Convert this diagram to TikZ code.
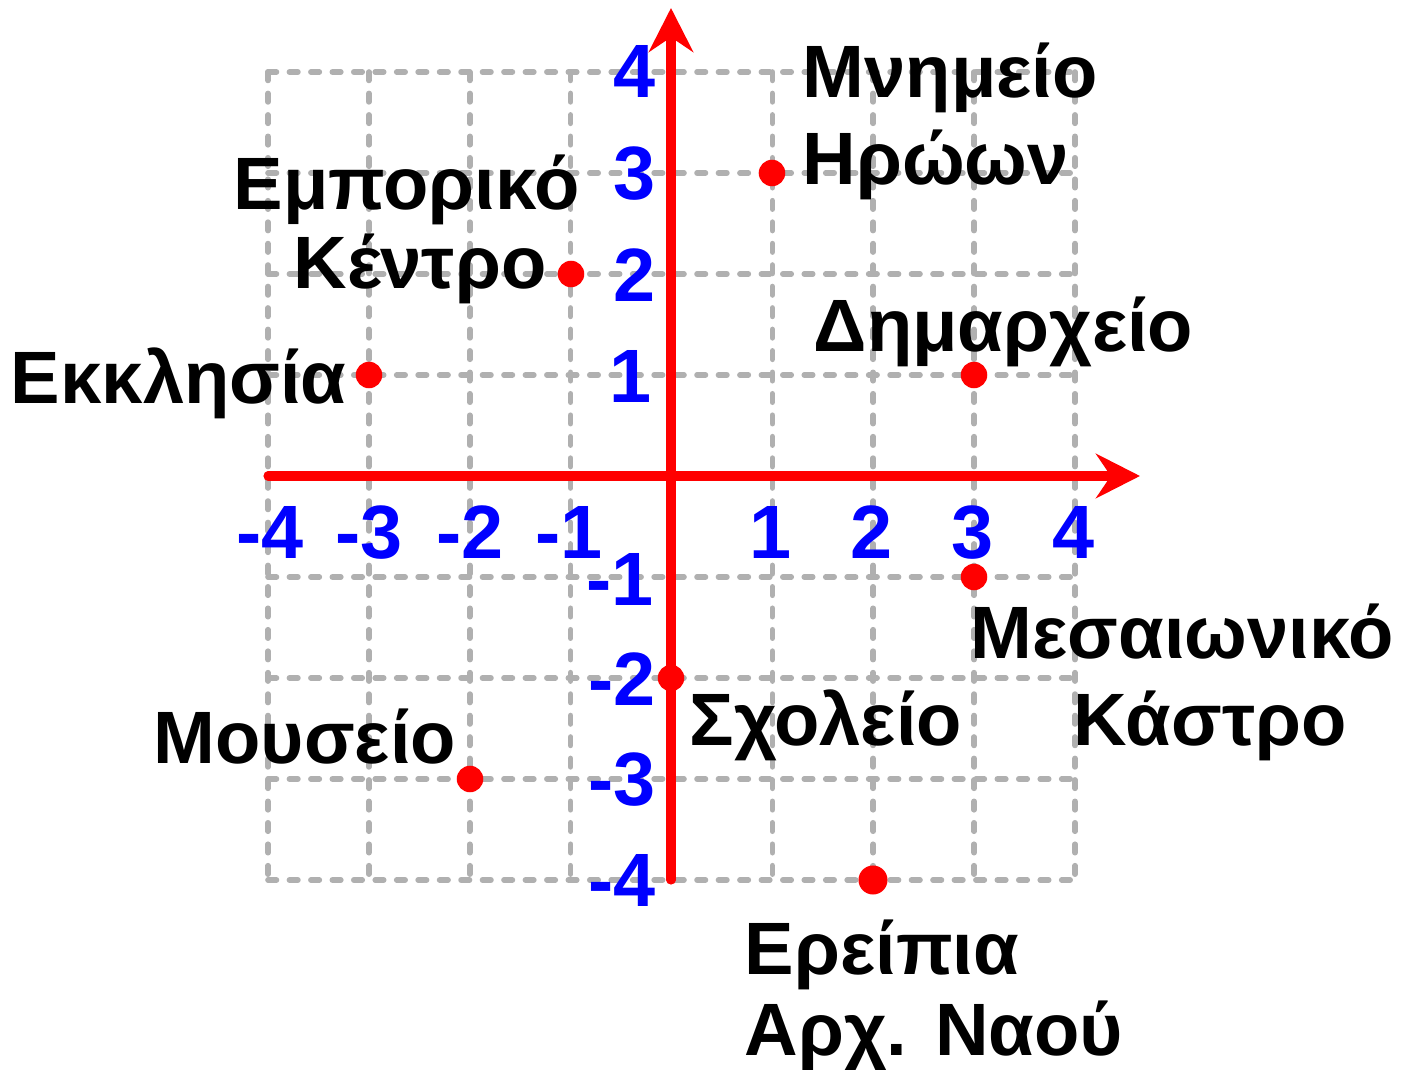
\documentclass[tikz,border=0pt]{standalone}
\usepackage{fontspec}
\setmainfont{Liberation Sans}
\usetikzlibrary{arrows.meta}
\begin{document}
\begin{tikzpicture}[x=0.01cm,y=-0.01cm,
  gridline/.style={draw={rgb,255:red,176;green,176;blue,176},line width=1.6pt,line cap=round,dash pattern=on 2.4pt off 3.7pt},
  axis/.style={draw=red,line width=2.6pt,line cap=round,-{Stealth[length=12.5pt,width=12.6pt,inset=4.2pt]}},
  dot/.style={circle,fill=red,inner sep=0pt,minimum size=0.265cm},
  lbl/.style={inner sep=0pt,anchor=base west,font=\fontsize{21.1}{25}\selectfont\bfseries},
  num/.style={inner sep=0pt,text=blue,font=\fontsize{21.5}{26}\selectfont\bfseries}]
\useasboundingbox (0,0) rectangle (1411,1070);
% grid
\foreach \i in {0,...,8}{
  \draw[gridline] ({268+\i*100.875},72) -- ({268+\i*100.875},880);
  \draw[gridline] (268,{72+\i*101}) -- (1075,{72+\i*101});
}
% axes
\coordinate (xs) at (268,476);
\coordinate (xe) at (1140,476);
\coordinate (ys) at (671,880);
\coordinate (ye) at (671,8);
\draw[axis] (xs) -- (xe);
\draw[axis] (ys) -- (ye);
% axis numbers
\node[num,anchor=base] (nxm4) at (270,558) {-4};
\node[num,anchor=base] (nxm3) at (369,558) {-3};
\node[num,anchor=base] (nxm2) at (470,558) {-2};
\node[num,anchor=base] (nxm1) at (569,558) {-1};
\node[num,anchor=base] (nx1) at (771,558) {1};
\node[num,anchor=base] (nx2) at (872,558) {2};
\node[num,anchor=base] (nx3) at (973,558) {3};
\node[num,anchor=base] (nx4) at (1074,558) {4};
\node[num,anchor=east] (ny4) at (656,71) {4};
\node[num,anchor=east] (ny3) at (656,174) {3};
\node[num,anchor=east] (ny2) at (656,275) {2};
\node[num,anchor=east] (ny1) at (652,376) {1};
\node[num,anchor=east] (nym1) at (654,579) {-1};
\node[num,anchor=east] (nym2) at (656,679) {-2};
\node[num,anchor=east] (nym3) at (656,780) {-3};
\node[num,anchor=east] (nym4) at (656,880) {-4};
% points
\node[dot] (p1) at (772,173) {};
\node[dot] (p2) at (571,274) {};
\node[dot] (p3) at (369,375) {};
\node[dot] (p4) at (974,375) {};
\node[dot] (p5) at (974,577) {};
\node[dot] (p6) at (671,678) {};
\node[dot] (p7) at (470,779) {};
\node[dot,minimum size=0.29cm] (p8) at (873,880) {};
% labels
\node[lbl] (l1a) at (802,98) {Μνημείο};
\node[lbl] (l1b) at (802,185) {Ηρώων};
\node[lbl] (l2a) at (233,210) {Εμπορικό};
\node[lbl] (l2b) at (293,289) {Κέντρο};
\node[lbl] (l3) at (10,403) {Εκκλησία};
\node[lbl] (l4) at (813,352) {Δημαρχείο};
\node[lbl] (l5a) at (970,659) {Μεσαιωνικό};
\node[lbl] (l5b) at (1073,745) {Κάστρο};
\node[lbl] (l6) at (689,745) {Σχολείο};
\node[lbl] (l7) at (153,763) {Μουσείο};
\node[lbl] (l8a) at (744,975) {Ερείπια};
\node[lbl] (l8b) at (744,1055) {Αρχ. Ναού};
\end{tikzpicture}
\end{document}
